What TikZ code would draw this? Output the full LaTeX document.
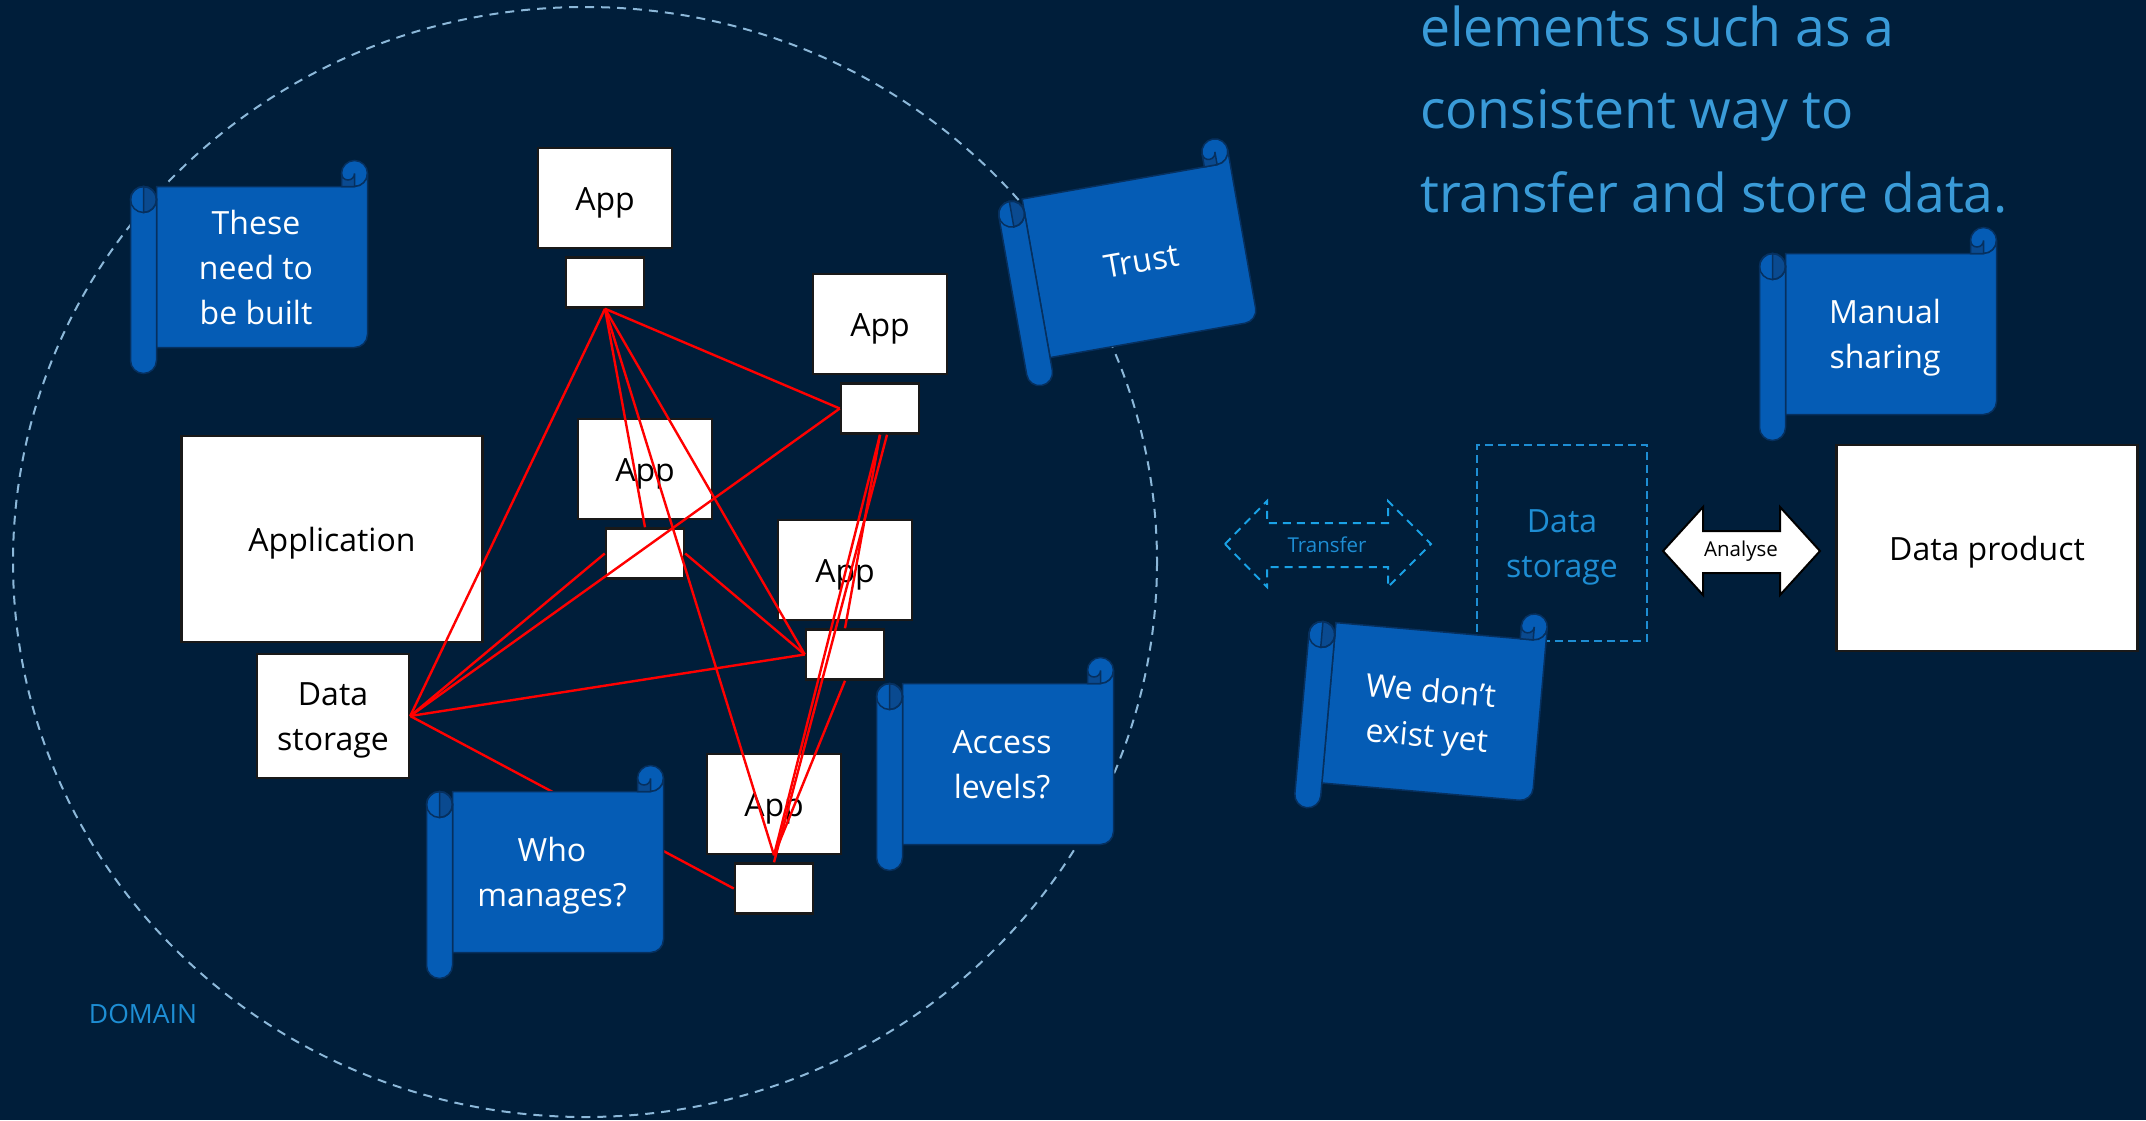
\documentclass[tikz,border=0pt]{standalone}
\usepackage{fontspec}
\setmainfont{Open Sans}
\usetikzlibrary{positioning}

\definecolor{navy}{HTML}{001E3A}
\definecolor{scrollfill}{HTML}{055CB5}
\definecolor{scrollshade}{HTML}{0A4A90}
\definecolor{scrolledge}{HTML}{06305F}
\definecolor{domainline}{HTML}{8CB8D9}
\definecolor{titleblue}{HTML}{3A9BD8}
\definecolor{storeblue}{HTML}{1E8ED4}
\definecolor{transferblue}{HTML}{1AA2E6}

\newcommand{\boxfont}{\fontsize{32}{45}\selectfont}
\newcommand{\smallfont}{\fontsize{20.5}{24}\selectfont}
% strut so that lines sit as in a slide text box
\newcommand{\boxstrut}{\rule[-9.4pt]{0pt}{43.6pt}}

% size of one scroll: curl, width, height
\newcommand{\scrollc}{26}
\newcommand{\scrollw}{237}
\newcommand{\scrollh}{213}

\tikzset{
    box/.style={
           rectangle,
           draw=black!90, line width=2.5pt,
           fill=white,
           text=black,
           inner sep=0pt,
           align=center,
           font=\boxfont,
           execute at begin node=\boxstrut,
           execute at end node=\boxstrut,
           },
    app/.style={box, minimum width=134, minimum height=100},
    port/.style={box, minimum width=78, minimum height=50},
    link/.style={draw=red, line width=2.4pt},
    scroll body/.style={fill=scrollfill, draw=scrolledge, line width=1.5pt},
    scroll curl/.style={fill=scrollshade, draw=scrolledge, line width=1.5pt},
    scrolltext/.style={
           text=white, align=center, font=\boxfont, inner sep=0pt,
           execute at begin node=\boxstrut,
           execute at end node=\boxstrut,
           },
}

% scroll note: [text shift], name, x, y (centre of the sheet), angle, text
\newcommand{\scrollnote}[6][-6]{%
  \begin{scope}[shift={(#3,#4)}, rotate=#5,
                shift={({-(\scrollc+\scrollw)/2},{-\scrollh/2})}]
    % curl top right
    \filldraw[scroll body] ({\scrollw-\scrollc/2},{\scrollc/2}) circle[radius=\scrollc/2];
    % sheet
    \filldraw[scroll body] (\scrollc,\scrollc) -- ({\scrollw-\scrollc/2},\scrollc)
        arc[start angle=90, end angle=0, radius=\scrollc/2]
        -- (\scrollw,{\scrollh-1.5*\scrollc})
        arc[start angle=0, end angle=90, radius=\scrollc/2]
        -- (\scrollc,{\scrollh-\scrollc}) -- cycle;
    \filldraw[scroll curl] ({\scrollw-\scrollc/2},{\scrollc/2})
        arc[start angle=0, end angle=180, radius=\scrollc/4]
        -- ({\scrollw-\scrollc},\scrollc) -- ({\scrollw-\scrollc/2},\scrollc) -- cycle;
    % roll on the left
    \filldraw[scroll body] (0,{1.5*\scrollc})
        arc[start angle=180, end angle=360, radius=\scrollc/2]
        -- (\scrollc,{\scrollh-\scrollc/2})
        arc[start angle=0, end angle=180, radius=\scrollc/2] -- cycle;
    \filldraw[scroll curl] ({\scrollc/2},\scrollc)
        arc[start angle=270, end angle=450, radius=\scrollc/2] -- cycle;
    \draw[scroll body, fill=none] ({\scrollc/2},{1.5*\scrollc}) circle[radius=\scrollc/2];
  \end{scope}
  \node[scrolltext, rotate=#5] (#2) at ([xshift=#1pt]#3,#4) {\boxstrut #6};
}

\begin{document}
\begin{tikzpicture}[x=1pt, y=-1pt]
        % BACKGROUND
        \useasboundingbox (0,0) rectangle (2146,1120);
        \fill[navy] (0,0) rectangle (2146,1120);

        % DOMAIN
        \draw[domainline, line width=2pt, dash pattern=on 9pt off 7pt]
            (585,562) ellipse[x radius=572, y radius=555];
        \node[text=storeblue, font=\fontsize{26.5}{30}\selectfont] (domain) at (143,1014) {DOMAIN};

        % TITLE
        \node[text=titleblue, font=\fontsize{53.5}{64}\selectfont, inner sep=0pt,
            anchor=base west] (title1) at (1420,46) {elements such as a};
        \node[text=titleblue, font=\fontsize{53.5}{64}\selectfont, inner sep=0pt,
            anchor=base west] (title2) at (1420,128) {consistent way to};
        \node[text=titleblue, font=\fontsize{53.5}{64}\selectfont, inner sep=0pt,
            anchor=base west] (title3) at (1420,212) {transfer and store data.};

        % APPLICATION AND ITS STORAGE
        \node[box, minimum width=301, minimum height=206] (application) at (332,539) {Application};
        \node[box, minimum width=152, minimum height=124] (storage) at (333,716) {\boxstrut Data\\storage};

        % APPS
        \node[app] (app1) at (605,198) {App};
        \node[port, below=7pt of app1] (port1) {};
        \node[app] (app2) at (880,324) {App};
        \node[port, below=7pt of app2] (port2) {};
        \node[app] (app3) at (645,469) {App};
        \node[port, below=7pt of app3] (port3) {};
        \node[app] (app4) at (845,570) {App};
        \node[port, below=7pt of app4] (port4) {};
        \node[app] (app5) at (774,804) {App};
        \node[port, below=7pt of app5] (port5) {};

        % point to point links
        \path
        (port1.south)   edge[link] (storage.east)
        (port1.south)   edge[link] (port2.west)
        (port1.south)   edge[link] (port3.north)
        (port1.south)   edge[link] (port4.west)
        (port1.south)   edge[link] (app5.south)
        (port2.west)    edge[link] (storage.east)
        (port2.south)   edge[link] (port4.north)
        (port2.south)   edge[link] (app5.south)
        ([xshift=7pt]port2.south) edge[link] (port5.north)
        (port3.west)    edge[link] (storage.east)
        (port3.east)    edge[link] (port4.west)
        (port4.west)    edge[link] (storage.east)
        (port4.south)   edge[link] (app5.south)
        (storage.east)  edge[link] (port5.west)
        ;

        % DATA PRODUCT SIDE
        \draw[transferblue, line width=2pt, dash pattern=on 8pt off 6pt]
            (1225,544) -- (1267,501) -- (1267,523) -- (1388,523) -- (1388,501)
            -- (1431,544) -- (1388,587) -- (1388,567) -- (1267,567) -- (1267,587) -- cycle;
        \node[text=storeblue, font=\smallfont] (transfer) at (1327,545) {Transfer};

        \node[draw=storeblue, line width=2pt, dash pattern=on 8pt off 5pt,
            minimum width=170, minimum height=196, inner sep=0pt,
            text=storeblue, align=center, font=\boxfont,
            execute at begin node=\boxstrut,
            execute at end node=\boxstrut] (store) at (1562,543) {\boxstrut Data\\storage};

        \filldraw[fill=white, draw=black, line width=2pt]
            (1663,551) -- (1703,507) -- (1703,531) -- (1780,531) -- (1780,507)
            -- (1820,551) -- (1780,595) -- (1780,573) -- (1703,573) -- (1703,595) -- cycle;
        \node[text=black, font=\smallfont] (analyse) at (1741,551) {Analyse};

        \node[box, minimum width=301, minimum height=206] (product) at (1987,548) {Data product};

        % SCROLLS
        \scrollnote{built}{262}{267}{0}{These\\need to\\be built}
        \scrollnote[1]{trust}{1140}{260}{10}{Trust}
        \scrollnote{manual}{1891}{334}{0}{Manual\\sharing}
        \scrollnote{access}{1008}{764}{0}{Access\\levels?}
        \scrollnote{manages}{558}{872}{0}{Who\\manages?}
        \scrollnote[-5]{notyet}{1434}{712}{-5}{We don’t\\exist yet}
\end{tikzpicture}
\end{document}
